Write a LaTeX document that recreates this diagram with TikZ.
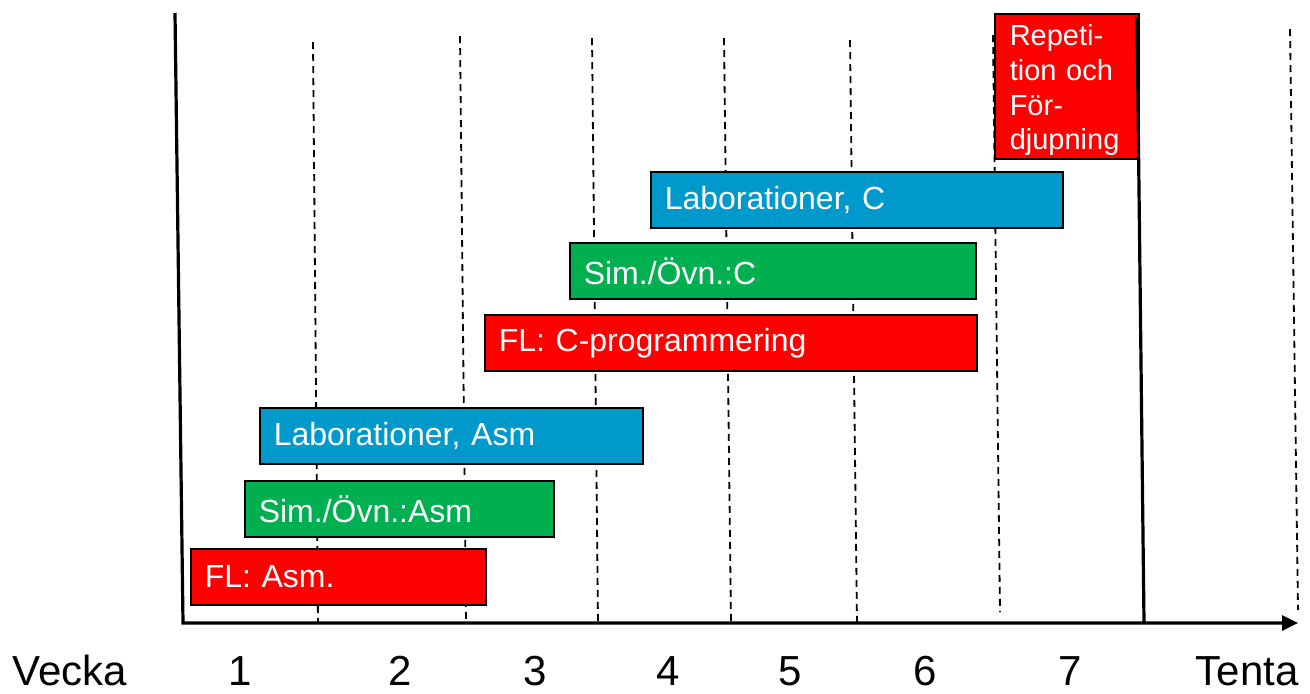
\documentclass[tikz,border=0pt]{standalone}
\usepackage{fontspec}
\setmainfont{Liberation Sans}
\usetikzlibrary{arrows.meta}
\definecolor{flred}{HTML}{FF0000}
\definecolor{simgreen}{HTML}{00B050}
\definecolor{labblue}{HTML}{0099CC}

\begin{document}
\begin{tikzpicture}[x=0.5pt, y=-0.5pt]

	% style of the bars and lines
	\tikzstyle{bar}=[draw=black, line width=0.75pt, text=white, anchor=north west, align=left,
		inner xsep=7pt, inner ysep=0pt, minimum height=28pt, font=\fontsize{16}{19}\selectfont]
	\tikzstyle{weekline}=[line width=0.9pt, dash pattern=on 3.5pt off 2.5pt]
	\tikzstyle{axis}=[line width=1.6pt]
	\tikzstyle{weeklabel}=[anchor=base, inner sep=0pt, font=\fontsize{21}{25}\selectfont]

	\useasboundingbox (0,0) rectangle (1310,693);

	% week borders
	\draw[weekline] (313,42) -- (318,623);
	\draw[weekline] (460,36) -- (466,623);
	\draw[weekline] (592,38) -- (598,623);
	\draw[weekline] (724,38) -- (731,623);
	\draw[weekline] (850,40) -- (857,623);
	\draw[weekline] (993,35) -- (1000,612);
	\draw[weekline] (1290,29) -- (1298,610);

	% bars, assembler part
	\node[bar, fill=flred, text width=133.5pt] (flasm) at (190,548) {FL: Asm.};
	\node[bar, fill=simgreen, text width=140.5pt] (simasm) at (244,480) {Sim./Övn.:Asm};
	\node[bar, fill=labblue, text width=177.5pt] (labasm) at (259,407) {Laborationer, Asm};

	% bars, C part
	\node[bar, fill=flred, text width=232pt] (flc) at (484,314) {FL: C-programmering};
	\node[bar, fill=simgreen, text width=189pt] (simc) at (569,242) {Sim./Övn.:C};
	\node[bar, fill=labblue, text width=192pt] (labc) at (650,171) {Laborationer, C};

	\node[bar, fill=flred, text width=57pt, inner xsep=7.5pt, minimum height=72.5pt,
		font=\fontsize{14.5}{17.3}\selectfont] (rep) at (994,13)
		{\rule{0pt}{14.5pt}Repeti-\\tion och\\För-\\djupning};

	% axes
	\coordinate (ytop) at (175,13);
	\coordinate (origin) at (183,623);
	\coordinate (xend) at (1298,623);
	\draw[axis, -{Triangle[length=8pt, width=7.5pt]}] (ytop) -- (origin) -- (xend);

	% exam
	\coordinate (examtop) at (1137,17);
	\coordinate (examfoot) at (1144,623);
	\draw[axis] (examtop) -- (examfoot);

	% week labels
	\node[weeklabel] (vecka) at (70,685) {Vecka};
	\node[weeklabel] (w1) at (240,685) {1};
	\node[weeklabel] (w2) at (400,685) {2};
	\node[weeklabel] (w3) at (535,685) {3};
	\node[weeklabel] (w4) at (668,685) {4};
	\node[weeklabel] (w5) at (790,685) {5};
	\node[weeklabel] (w6) at (925,685) {6};
	\node[weeklabel] (w7) at (1070,685) {7};
	\node[weeklabel] (tenta) at (1247,685) {Tenta};

\end{tikzpicture}
\end{document}
